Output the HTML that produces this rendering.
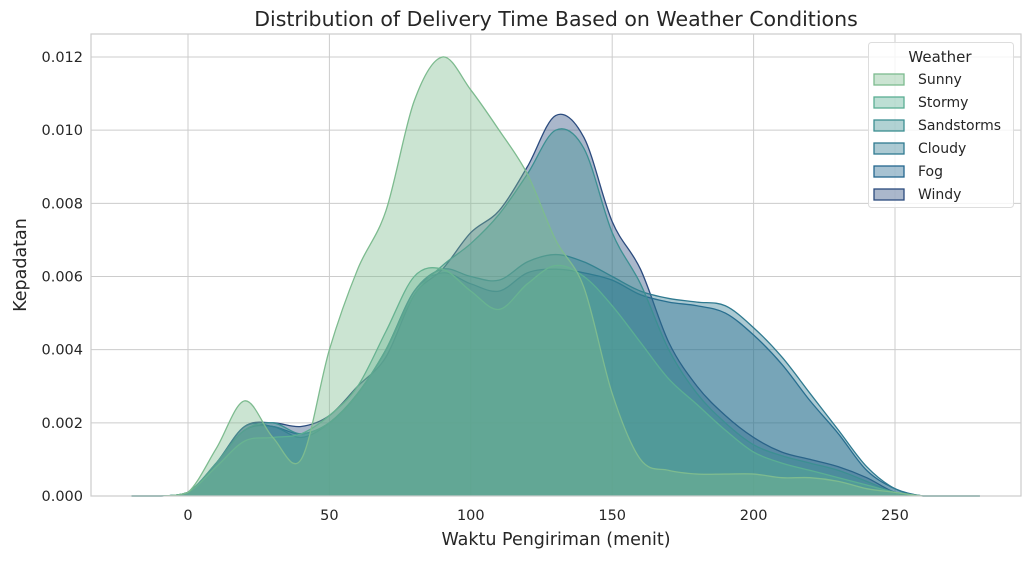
<!DOCTYPE html>
<html><head><meta charset="utf-8"><style>
body{margin:0;background:#fff;font-family:"Liberation Sans","DejaVu Sans",sans-serif}
svg text{font-family:"DejaVu Sans","Liberation Sans",sans-serif;fill:#262626}
</style></head><body>
<svg id="chart" width="1031" height="559" xmlns="http://www.w3.org/2000/svg">
<text x="556" y="26" font-size="20.5" text-anchor="middle">Distribution of Delivery Time Based on Weather Conditions</text>
<g id="grid"></g><g id="areas"></g><g id="axes"></g>
<text x="556" y="545" font-size="17.5" text-anchor="middle">Waktu Pengiriman (menit)</text>
<text transform="translate(26,265) rotate(-90)" font-size="17.5" text-anchor="middle">Kepadatan</text>
<g id="legend"></g>
</svg>
<script>
const xGrid=[-20,-10,0,10,20,30,40,50,60,70,80,90,100,110,120,130,140,150,160,170,180,190,200,210,220,230,240,250,260,270,280];
const seriesNames=["Sunny","Stormy","Sandstorms","Cloudy","Fog","Windy"];
const sunny=[0,0,0.0001,0.0013,0.0026,0.0016,0.0010,0.004,0.0062,0.0078,0.0108,0.0120,0.0111,0.0100,0.0088,0.0070,0.0057,0.0028,0.0010,0.0007,0.0006,0.0006,0.0006,0.0005,0.0005,0.0004,0.0002,0.0001,0,0,0];
const stormy=[0,0,0.0001,0.0008,0.0015,0.0016,0.0017,0.0022,0.003,0.0045,0.006,0.0062,0.0056,0.0051,0.0058,0.0063,0.006,0.0052,0.0042,0.0032,0.0025,0.0018,0.0012,0.0009,0.0007,0.0005,0.0003,0.0001,0,0,0];
const sandstorms=[0,0,0.0001,0.0009,0.0018,0.002,0.0017,0.002,0.0028,0.004,0.0055,0.0063,0.0069,0.0077,0.0088,0.0100,0.0095,0.0072,0.0058,0.0040,0.0028,0.002,0.0014,0.0011,0.0009,0.0007,0.0004,0.0001,0,0,0];
const cloudy=[0,0,0.0001,0.0009,0.0018,0.0019,0.0016,0.002,0.0028,0.004,0.0056,0.0062,0.0060,0.0059,0.0064,0.0066,0.0064,0.0060,0.0056,0.0054,0.0053,0.0052,0.0046,0.0038,0.0028,0.0018,0.0008,0.0002,0,0,0];
const fog=[0,0,0.0001,0.0009,0.0019,0.0019,0.0017,0.002,0.0028,0.004,0.0056,0.0061,0.0058,0.0056,0.0061,0.0062,0.0061,0.0059,0.0055,0.0053,0.0052,0.0050,0.0044,0.0036,0.0026,0.0017,0.0007,0.0002,0,0,0];
const windy=[0,0,0.0001,0.0009,0.0019,0.002,0.0019,0.0022,0.003,0.0038,0.0055,0.0062,0.0072,0.0078,0.009,0.0104,0.0098,0.0075,0.0062,0.0042,0.003,0.0022,0.0016,0.0012,0.001,0.0008,0.0005,0.0001,0,0,0];
const xTicks=[0,50,100,150,200,250];
const yTicks=[0,0.002,0.004,0.006,0.008,0.010,0.012];
const yTickLabels=["0.000","0.002","0.004","0.006","0.008","0.010","0.012"];
const colors=["#7dbb8f","#5aae93","#3c8f92","#2f7a90","#24668e","#2b4b7e"];
const NS="http://www.w3.org/2000/svg";
const L=91,R=1021,T=34,B=496;
const sx=v=>188+(v-0)*(895-188)/250;
const sy=v=>B-v*(B-57)/0.012;
function mk(tag,attrs,parent){const e=document.createElementNS(NS,tag);for(const k in attrs)e.setAttribute(k,attrs[k]);parent.appendChild(e);return e;}
const grid=document.getElementById('grid'),axes=document.getElementById('axes'),areas=document.getElementById('areas'),leg=document.getElementById('legend');
mk('rect',{x:L,y:T,width:R-L,height:B-T,fill:'#fff'},grid);
xTicks.forEach(t=>{const l=mk('line',{x1:sx(t),x2:sx(t),y1:T,y2:B,stroke:'#cccccc','stroke-width':1},grid);

const tx=mk('text',{x:sx(t),y:B+24,'font-size':14.5,'text-anchor':'middle'},axes);tx.textContent=t;
});
yTicks.forEach((t,i)=>{const l=mk('line',{x1:L,x2:R,y1:sy(t),y2:sy(t),stroke:'#cccccc','stroke-width':1},grid);

const tx=mk('text',{x:L-8,y:sy(t)+5,'font-size':14.5,'text-anchor':'end'},axes);tx.textContent=yTickLabels[i];
});
function curve(vals){const p=xGrid.map((x,i)=>[sx(x),sy(vals[i])]);let d='M'+p[0][0]+','+p[0][1];
for(let i=0;i<p.length-1;i++){const p0=p[Math.max(0,i-1)],p1=p[i],p2=p[i+1],p3=p[Math.min(p.length-1,i+2)];
const c1x=p1[0]+(p2[0]-p0[0])/6,c1y=Math.min(B,p1[1]+(p2[1]-p0[1])/6),c2x=p2[0]-(p3[0]-p1[0])/6,c2y=Math.min(B,p2[1]-(p3[1]-p1[1])/6);
d+=`C${c1x},${c1y} ${c2x},${c2y} ${p2[0]},${p2[1]}`;}return d;}
const data=[sunny,stormy,sandstorms,cloudy,fog,windy];
for(let i=data.length-1;i>=0;i--){const c=curve(data[i]);
const a=mk('path',{d:c+`L${sx(xGrid[xGrid.length-1])},${B}L${sx(xGrid[0])},${B}Z`,fill:colors[i],'fill-opacity':0.4,stroke:'none'},areas);

const ln=mk('path',{d:c,fill:'none',stroke:colors[i],'stroke-width':1.3},areas);
}
mk('rect',{x:L,y:T,width:R-L,height:B-T,fill:'none',stroke:'#cccccc','stroke-width':1.2},axes);
mk('rect',{x:868.5,y:42.5,width:145,height:165,rx:3,fill:'#fff','fill-opacity':0.8,stroke:'#dddddd'},leg);
const lt=mk('text',{x:940,y:62,'font-size':15,'text-anchor':'middle'},leg);lt.textContent='Weather';

seriesNames.forEach((n,i)=>{const y=74+i*23;
const r=mk('rect',{x:874,y:y,width:30,height:11,fill:colors[i],'fill-opacity':0.4,stroke:colors[i],'stroke-width':1.3},leg);

const t=mk('text',{x:918,y:y+10,'font-size':14},leg);t.textContent=n;
});
</script>
</body></html>
